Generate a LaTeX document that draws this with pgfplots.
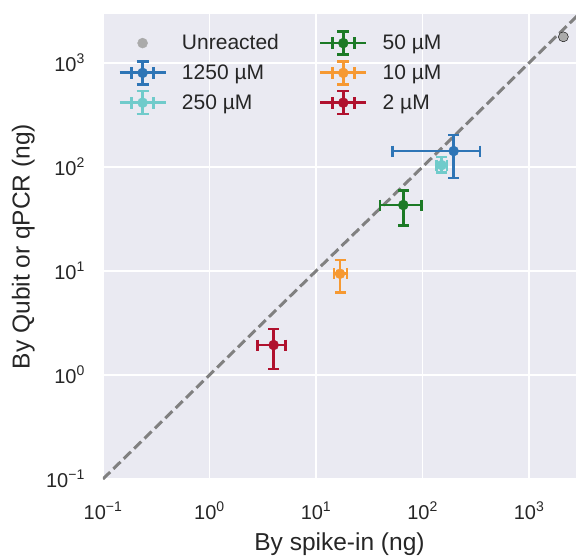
\documentclass[border=0pt]{standalone}
\usepackage{fontspec}
\setmainfont{Liberation Sans}
\usepackage{pgfplots}
\usepackage{pgfplotstable}
\pgfplotsset{compat=1.18}

\definecolor{bgc}{HTML}{EAEAF2}
\definecolor{txt}{HTML}{262626}
\definecolor{cblue}{HTML}{2E75B6}
\definecolor{cteal}{HTML}{70CBCB}
\definecolor{cgreen}{HTML}{1C7A26}
\definecolor{corange}{HTML}{F69932}
\definecolor{cred}{HTML}{B0112E}
\definecolor{cgrey}{HTML}{AAAAAA}
\definecolor{cline}{HTML}{808080}

% x, y, and asymmetric y errors (minus / plus) in ng
\pgfplotstableread{
x    y    ym    yp
196  142  63.5  60
}\tabA
\pgfplotstableread{
x    y    ym    yp
151  104  16    21
}\tabB
\pgfplotstableread{
x    y    ym    yp
66   43   15.5  16.6
}\tabC
\pgfplotstableread{
x    y    ym    yp
16.8 9.4  3.2   3.3
}\tabD
\pgfplotstableread{
x    y    ym    yp
4.0  1.94 0.8   0.82
}\tabE

\pgfplotsset{
  % horizontal range (low .. high spike-in estimate) with end caps
  xrange/.style={forget plot, color=#1, line width=2.8pt, mark=|,
    mark options={solid, line width=2.6pt, mark size=5.5pt}},
  % vertical error bars and the point itself (keep last in an option list)
  yebar/.style={
    only marks, mark=*, color=#1,
    mark options={draw=none, fill=#1, mark size=5pt},
    error bars/.cd,
      y dir=both, y explicit,
      error bar style={line width=2.8pt, color=#1},
      error mark options={line width=2.6pt, mark size=5.5pt, color=#1, rotate=90},
  },
  ebleg/.style={legend image code/.code={
    \draw[#1, line width=2.8pt] (0pt,0pt) -- (46pt,0pt);
    \draw[#1, line width=2.6pt] (12pt,-6pt) -- (12pt,6pt) (34pt,-6pt) -- (34pt,6pt);
    \draw[#1, line width=2.8pt] (23pt,-11.5pt) -- (23pt,11.5pt);
    \draw[#1, line width=2.6pt] (17pt,-11.5pt) -- (29pt,-11.5pt) (17pt,11.5pt) -- (29pt,11.5pt);
    \fill[#1] (23pt,0pt) circle (5pt);
  }},
  table/ebtab/.style={x=x, y=y, y error minus=ym, y error plus=yp},
}

\begin{document}
\begin{tikzpicture}
\begin{axis}[
  xmode=log, ymode=log,
  scale only axis, width=473pt, height=465pt,
  xmin=0.1, xmax=2760, ymin=0.1, ymax=2950,
  axis background/.style={fill=bgc},
  axis line style={draw=none},
  major tick length=0pt, minor tick length=0pt,
  xminorticks=false, yminorticks=false,
  xtick={0.1,1,10,100,1000}, ytick={0.1,1,10,100,1000},
  xticklabels={10\textsuperscript{−1},10\textsuperscript{0},10\textsuperscript{1},10\textsuperscript{2},10\textsuperscript{3}},
  yticklabels={10\textsuperscript{−1},10\textsuperscript{0},10\textsuperscript{1},10\textsuperscript{2},10\textsuperscript{3}},
  grid=major, major grid style={white, line width=1.6pt},
  tick label style={font=\fontsize{20}{24}\selectfont, text=txt, inner sep=0pt},
  xticklabel style={anchor=base, yshift=-40pt},
  yticklabel style={anchor=east, xshift=-18pt},
  xlabel={By spike-in (ng)}, ylabel={By Qubit or qPCR (ng)},
  label style={font=\fontsize{24.5}{29}\selectfont, text=txt, inner sep=0pt},
  xlabel style={at={(axis description cs:0.5,-0.1548)}, anchor=base},
  ylabel style={at={(axis description cs:-0.1438,0.5)}, anchor=south},
  legend style={at={(axis description cs:0,1)}, anchor=north west,
    xshift=12pt, yshift=-14pt, draw=none, fill=none,
    font=\fontsize{21}{25}\selectfont, text=txt,
    row sep=4pt,
    /tikz/every odd column/.append style={column sep=13pt},
    /tikz/every even column/.append style={column sep=38pt}},
  legend columns=2, legend cell align=left,
]
% unreacted sample
\addplot[forget plot, only marks, mark=*, mark options={draw=none, fill=cgrey, mark size=5pt}]
  coordinates {(2100,1780)};
% identity line
\addplot[forget plot, cline, line width=3pt, dash pattern=on 10pt off 4.5pt]
  coordinates {(0.1,0.1) (3000,3000)};
% concentrations: spike-in range, then qPCR error bars with the point
\addplot[xrange=cblue]   coordinates {(52,142) (345,142)};
\addplot[forget plot, yebar=cblue] table[ebtab]{\tabA};
\addplot[xrange=cteal]   coordinates {(135,104) (170,104)};
\addplot[forget plot, yebar=cteal] table[ebtab]{\tabB};
\addplot[xrange=cgreen]  coordinates {(40,43) (98,43)};
\addplot[forget plot, yebar=cgreen] table[ebtab]{\tabC};
\addplot[xrange=corange] coordinates {(14.8,9.4) (19.5,9.4)};
\addplot[forget plot, yebar=corange] table[ebtab]{\tabD};
\addplot[xrange=cred]    coordinates {(2.84,1.94) (5.2,1.94)};
\addplot[forget plot, yebar=cred] table[ebtab]{\tabE};

\addlegendimage{legend image code/.code={\fill[cgrey] (23pt,0pt) circle (5pt);}}
\addlegendentry{Unreacted}
\addlegendimage{ebleg=cgreen}
\addlegendentry{50 µM}
\addlegendimage{ebleg=cblue}
\addlegendentry{1250 µM}
\addlegendimage{ebleg=corange}
\addlegendentry{10 µM}
\addlegendimage{ebleg=cteal}
\addlegendentry{250 µM}
\addlegendimage{ebleg=cred}
\addlegendentry{2 µM}
\end{axis}
\pgfresetboundingbox
\path ([shift={(-103pt,-80pt)}]current axis.south west) rectangle ([shift={(0pt,14pt)}]current axis.north east);
\end{tikzpicture}
\end{document}
